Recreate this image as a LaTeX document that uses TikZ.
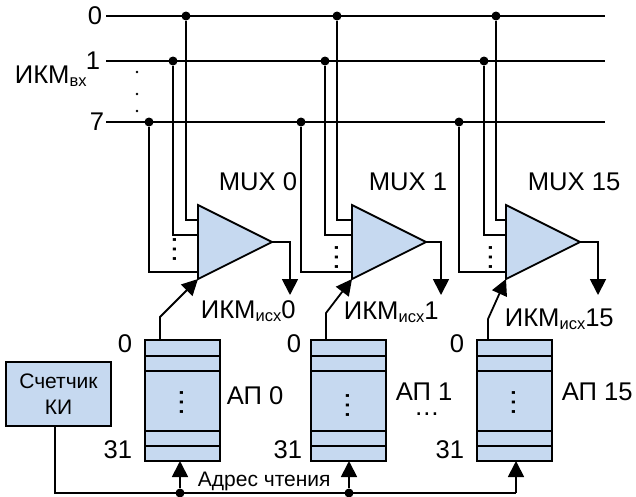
\documentclass[tikz,border=0pt]{standalone}
\usepackage{fontspec}
\setmainfont{Liberation Sans}
\usepackage{xcolor}
\usetikzlibrary{arrows.meta,shapes.geometric}
\definecolor{boxblue}{RGB}{198,217,240}
\newcommand{\subtxt}[1]{{\fontsize{16.5}{16.5}\selectfont\raisebox{-3pt}{#1}}}

\begin{document}
\begin{tikzpicture}[x=1pt,y=-1pt,>={Triangle[width=16pt,length=16pt]},line width=1.8pt,
    lbl/.style={anchor=base west,inner sep=0,font=\fontsize{25.6}{28}\selectfont},
    num/.style={anchor=base east,inner sep=0,font=\fontsize{25.6}{28}\selectfont},
    junction/.style={circle,fill=black,inner sep=0,minimum size=9pt},
    smalldot/.style={circle,fill=black,inner sep=0,minimum size=2.8pt},
    vdotmark/.style={rotate=90,anchor=base,inner sep=0,font=\fontsize{30}{30}\selectfont},
    muxbox/.style={isosceles triangle,isosceles triangle stretches,draw,fill=boxblue,inner sep=0,outer sep=0,anchor=lower side,minimum width=74pt,minimum height=74pt},
    regbox/.style={rectangle,draw,fill=boxblue,inner sep=0,outer sep=0,minimum width=75pt,minimum height=121pt}]

    \useasboundingbox (0,0) rectangle (636,496);

    % input buses
    \coordinate (b0l) at (106,16);
    \coordinate (b0r) at (605,16);
    \coordinate (b1l) at (106,61);
    \coordinate (b1r) at (605,61);
    \coordinate (b7l) at (106,122);
    \coordinate (b7r) at (605,122);
    \draw (b0l) -- (b0r);
    \draw (b1l) -- (b1r);
    \draw (b7l) -- (b7r);

    \node[num] (n0) at (103,24) {0};
    \node[num] (n1) at (101,69) {1};
    \node[num] (n7) at (105,130) {7};
    \node[lbl] (ikmin) at (14,83) {ИКМ\subtxt{вх}};
    \node[smalldot] (d1) at (137,72) {};
    \node[smalldot] (d2) at (137,94) {};
    \node[smalldot] (d3) at (137,111) {};

    % multiplexers
    \node[muxbox] (mux0) at (198,242) {};
    \node[muxbox] (mux1) at (352,242) {};
    \node[muxbox] (mux15) at (506,242) {};
    \node[lbl] (muxl0) at (218,190) {MUX 0};
    \node[lbl] (muxl1) at (368,190) {MUX 1};
    \node[lbl] (muxl15) at (527,190) {MUX 15};

    \node[junction] (j00) at (186,16) {};
    \node[junction] (j01) at (173,61) {};
    \node[junction] (j07) at (149,122) {};
    \node[junction] (j10) at (337,16) {};
    \node[junction] (j11) at (325,61) {};
    \node[junction] (j17) at (301,122) {};
    \node[junction] (j150) at (496,16) {};
    \node[junction] (j151) at (484,61) {};
    \node[junction] (j157) at (459,122) {};

    \coordinate (m00) at (198,220);
    \coordinate (m01) at (198,235);
    \coordinate (m07) at (198,272);
    \coordinate (m10) at (352,220);
    \coordinate (m11) at (352,235);
    \coordinate (m17) at (352,272);
    \coordinate (m150) at (506,220);
    \coordinate (m151) at (506,235);
    \coordinate (m157) at (506,272);

    \draw (j00) |- (m00);
    \draw (j01) |- (m01);
    \draw (j07) |- (m07);
    \draw (j10) |- (m10);
    \draw (j11) |- (m11);
    \draw (j17) |- (m17);
    \draw (j150) |- (m150);
    \draw (j151) |- (m151);
    \draw (j157) |- (m157);

    \node[vdotmark] (md0) at (176,249.5) {…};
    \node[vdotmark] (md1) at (338,257.5) {…};
    \node[vdotmark] (md15) at (492,257.5) {…};

    % outputs
    \coordinate (o0) at (290,295);
    \coordinate (o1) at (441,295);
    \coordinate (o15) at (598,295);
    \draw[->] (mux0.apex) -| (o0);
    \draw[->] (mux1.apex) -| (o1);
    \draw[->] (mux15.apex) -| (o15);
    \node[lbl] (ikmout0) at (200,318) {ИКМ\subtxt{исх}0};
    \node[lbl] (ikmout1) at (343,319) {ИКМ\subtxt{исх}1};
    \node[lbl] (ikmout15) at (504,326) {ИКМ\subtxt{исх}15};

    % address memories
    \node[regbox] (ap0) at (182.5,400.5) {};
    \node[regbox] (ap1) at (348.5,400.5) {};
    \node[regbox] (ap15) at (514.5,400.5) {};

    \draw ([yshift=-16pt]ap0.north west) -- ([yshift=-16pt]ap0.north east);
    \draw ([yshift=-31pt]ap0.north west) -- ([yshift=-31pt]ap0.north east);
    \draw ([yshift=30pt]ap0.south west) -- ([yshift=30pt]ap0.south east);
    \draw ([yshift=15pt]ap0.south west) -- ([yshift=15pt]ap0.south east);
    \draw ([yshift=-16pt]ap1.north west) -- ([yshift=-16pt]ap1.north east);
    \draw ([yshift=-31pt]ap1.north west) -- ([yshift=-31pt]ap1.north east);
    \draw ([yshift=30pt]ap1.south west) -- ([yshift=30pt]ap1.south east);
    \draw ([yshift=15pt]ap1.south west) -- ([yshift=15pt]ap1.south east);
    \draw ([yshift=-16pt]ap15.north west) -- ([yshift=-16pt]ap15.north east);
    \draw ([yshift=-31pt]ap15.north west) -- ([yshift=-31pt]ap15.north east);
    \draw ([yshift=30pt]ap15.south west) -- ([yshift=30pt]ap15.south east);
    \draw ([yshift=15pt]ap15.south west) -- ([yshift=15pt]ap15.south east);

    \node[vdotmark] (rd0) at (183,402) {…};
    \node[vdotmark] (rd1) at (349,405) {…};
    \node[vdotmark] (rd15) at (515,402) {…};

    \node[num] (r00) at (133,352) {0};
    \node[num] (r031) at (133,458) {31};
    \node[num] (r10) at (302,352) {0};
    \node[num] (r131) at (303,458) {31};
    \node[num] (r150) at (465,352) {0};
    \node[num] (r1531) at (465,458) {31};
    \node[lbl] (apl0) at (226,404) {АП 0};
    \node[lbl] (apl1) at (395,400) {АП 1};
    \node[lbl] (apl15) at (561,400) {АП 15};
    \node[anchor=base,inner sep=0,font=\fontsize{25.6}{28}\selectfont] (more) at (427,415) {…};

    % read address into the multiplexers
    \coordinate (k0) at (160,317);
    \coordinate (k1) at (326,313);
    \coordinate (k15) at (488,319);
    \draw[->] (k0 |- ap0.north) -- (k0) -- (mux0.right corner);
    \draw[->] (k1 |- ap1.north) -- (k1) -- (mux1.right corner);
    \draw[->] (k15 |- ap15.north) -- (k15) -- (mux15.right corner);

    % counter
    \node[rectangle,draw,fill=boxblue,inner sep=0,outer sep=0,minimum width=105pt,minimum height=64pt,align=center,font=\fontsize{21}{26}\selectfont] (cnt) at (58.5,394) {Счетчик\\КИ};
    \node[junction] (a0) at (180,493) {};
    \node[junction] (a1) at (349,493) {};
    \coordinate (a15) at (516,493);
    \coordinate (c0) at (55,493);
    \draw (c0 |- cnt.south) -- (c0) -- (a15);
    \draw[->] (a0) -- (a0 |- ap0.south);
    \draw[->] (a1) -- (a1 |- ap1.south);
    \draw[->] (a15) -- (a15 |- ap15.south);
    \node[anchor=base west,inner sep=0,font=\fontsize{21}{24}\selectfont] (addr) at (197,486) {Адрес чтения};
\end{tikzpicture}
\end{document}
